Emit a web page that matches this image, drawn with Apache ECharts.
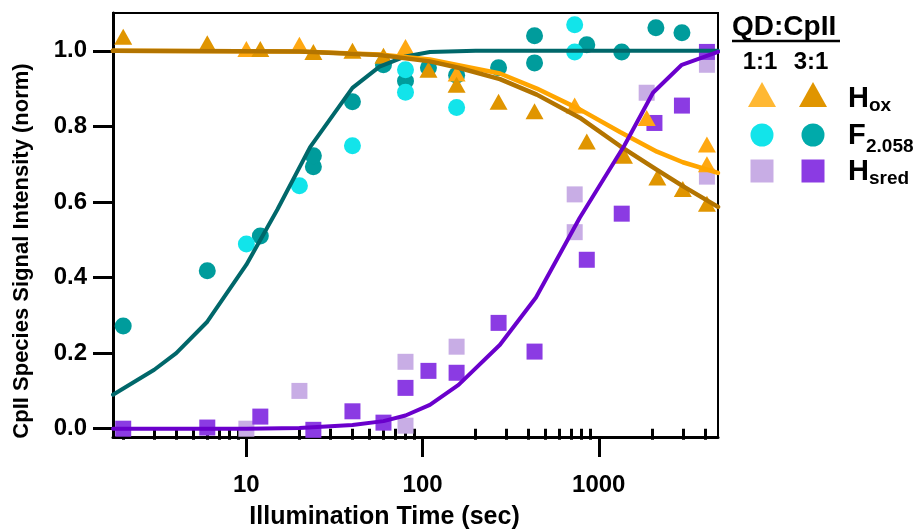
<!DOCTYPE html>
<html><head><meta charset="utf-8">
<script src="https://cdn.jsdelivr.net/npm/echarts@6/dist/echarts.min.js"></script>
<style>html,body{margin:0;padding:0;background:#fff}#c{width:915px;height:529px}</style>
</head><body><div id="c"></div>
<script>
const FONT = '"Liberation Sans", Arial, Helvetica, sans-serif';

// ---- tick values / labels ----
const xMajorTicks = [10, 100, 1000];
const xTickLabels = ['10', '100', '1000'];
const xMinorTicks = [2,3,4,5,6,7,8,9, 20,30,40,50,60,70,80,90, 200,300,400,500,600,700,800,900, 2000,3000,4000];
const yTicks = [0, 0.2, 0.4, 0.6, 0.8, 1.0];

// ---- Hox (triangles) ----
const hox11X = [10, 20, 80, 156, 730, 1870, 4110, 4110];
const hox11Y = [1.005, 1.016, 1.01, 0.94, 0.855, 0.822, 0.752, 0.700];
const hox31X = [2, 6, 12, 24, 40, 60, 108, 156, 270, 432, 855, 1390, 2150, 3000, 4110];
const hox31Y = [1.037, 1.020, 1.005, 0.997, 1.000, 0.987, 0.950, 0.910, 0.865, 0.840, 0.760, 0.722, 0.665, 0.634, 0.595];

// ---- F2.058 (circles) ----
const f11X = [10, 20, 40, 80, 80, 156, 730, 730];
const f11Y = [0.489, 0.643, 0.749, 0.950, 0.890, 0.850, 1.069, 0.997];
const f31X = [2, 6, 12, 24, 24, 40, 60, 80, 108, 156, 270, 432, 432, 855, 1350, 2110, 2965];
const f31Y = [0.272, 0.418, 0.510, 0.693, 0.722, 0.865, 0.963, 0.920, 0.955, 0.935, 0.955, 1.040, 0.968, 1.016, 0.997, 1.061, 1.048];

// ---- Hsred (squares) ----
const hs11X = [10, 20, 80, 80, 156, 730, 730, 1870, 4110, 4110];
const hs11Y = [0.000, 0.100, 0.008, 0.177, 0.217, 0.520, 0.620, 0.889, 0.963, 0.667];
const hs31X = [2, 6, 12, 24, 40, 60, 80, 108, 156, 270, 432, 855, 1350, 2070, 2965, 4110];
const hs31Y = [0.000, 0.003, 0.032, -0.003, 0.046, 0.016, 0.108, 0.153, 0.148, 0.280, 0.204, 0.447, 0.569, 0.809, 0.855, 0.997];

// ---- fitted curves ----
const fFitX = [1.75, 3, 4, 6, 10, 15, 23, 40, 57, 80, 110, 200, 4750];
const fFitY = [0.090, 0.156, 0.200, 0.283, 0.434, 0.580, 0.745, 0.902, 0.958, 0.985, 0.997, 1.000, 1.000];
const hox31FitX = [1.75, 20, 57, 110, 160, 275, 445, 780, 1320, 2140, 3000, 4750];
const hox31FitY = [1.000, 0.998, 0.989, 0.972, 0.955, 0.925, 0.884, 0.823, 0.748, 0.685, 0.642, 0.587];
const hox11FitX = [1.75, 20, 57, 110, 160, 275, 445, 780, 1320, 2140, 3000, 4750];
const hox11FitY = [1.000, 0.998, 0.990, 0.977, 0.962, 0.940, 0.900, 0.845, 0.785, 0.733, 0.705, 0.677];
const hsFitX = [1.75, 10, 20, 40, 60, 80, 110, 160, 275, 440, 780, 1400, 2030, 2960, 4750];
const hsFitY = [0, 0, 0.002, 0.010, 0.020, 0.035, 0.063, 0.116, 0.222, 0.347, 0.558, 0.750, 0.889, 0.963, 0.997];

const pairs = (xs, ys) => xs.map((x, i) => [x, ys[i]]);

const C = {
  hox11: '#FFA812', hox31: '#E09500', hox11Leg: '#FFB833',
  hox11Fit: '#FFA500', hox31Fit: '#B37400',
  f11: '#12E4EA', f31: '#009C9C', f31Leg: '#00AAAA', fFit: '#00676A',
  hs11: '#C8ADE5', hs31: '#8B3BE3', hsFit: '#6A00CC'
};

const X_MIN = 1.75, X_MAX = 4750, Y_MIN = -0.022, Y_MAX = 1.1;
const txt = { color: '#000', fontWeight: 'bold', fontFamily: FONT };

function scatter(name, xs, ys, symbol, size, color) {
  return { name, type: 'scatter', data: pairs(xs, ys), symbol, symbolSize: size,
    itemStyle: { color, opacity: 1 }, z: 2 };
}
function fit(name, xs, ys, color, w) {
  return { name, type: 'line', data: pairs(xs, ys), showSymbol: false, symbol: 'none',
    smooth: false, lineStyle: { color, width: w, cap: 'round', join: 'round' }, z: 3 };
}

const chart = echarts.init(document.getElementById('c'));
chart.setOption({
  animation: false,
  backgroundColor: '#fff',
  grid: { left: 113, right: 197, top: 13, bottom: 92, show: true, borderColor: '#000', borderWidth: 2,
    backgroundColor: 'transparent', containLabel: false, outerBoundsMode: 'none' },
  xAxis: [{
    type: 'log', logBase: 10, min: X_MIN, max: X_MAX, position: 'bottom',
    axisLine: { show: true, onZero: false, lineStyle: { color: '#000', width: 3 } },
    axisTick: { show: true, inside: false, length: 20, lineStyle: { color: '#000', width: 3 }, customValues: xMajorTicks },
    axisLabel: { show: true, customValues: xMajorTicks, margin: 36, fontSize: 24, ...txt,
      formatter: v => { const i = xMajorTicks.findIndex(t => Math.abs(t - v) / t < 1e-6); return i >= 0 ? xTickLabels[i] : ''; } },
    minorTick: { show: false }, splitLine: { show: false },
    name: 'Illumination Time (sec)', nameLocation: 'middle', nameGap: 68,
    nameTextStyle: { fontSize: 25, ...txt, padding: [0, 62, 0, 0] }
  }, {
    type: 'log', logBase: 10, min: X_MIN, max: X_MAX, position: 'bottom',
    axisLine: { show: false },
    axisTick: { show: true, inside: false, length: 11, lineStyle: { color: '#000', width: 3 }, customValues: xMinorTicks },
    axisLabel: { show: false }, splitLine: { show: false }, minorTick: { show: false }
  }],
  yAxis: {
    type: 'value', min: Y_MIN, max: Y_MAX,
    axisLine: { show: true, onZero: false, lineStyle: { color: '#000', width: 3 } },
    axisTick: { show: true, inside: false, length: 20, lineStyle: { color: '#000', width: 3 }, customValues: yTicks },
    axisLabel: { show: true, customValues: yTicks, margin: 26, fontSize: 24, ...txt, formatter: v => v.toFixed(1) },
    splitLine: { show: false },
    name: 'CpII Species Signal Intensity (norm)', nameLocation: 'middle', nameGap: 80, nameRotate: 90,
    nameTextStyle: { fontSize: 22, ...txt, padding: [0, 52, 0, 0] }
  },
  series: [
    scatter('F 3:1', f31X, f31Y, 'circle', 17, C.f31),
    scatter('F 1:1', f11X, f11Y, 'circle', 17, C.f11),
    scatter('Hsred 1:1', hs11X, hs11Y, 'rect', 16, C.hs11),
    scatter('Hsred 3:1', hs31X, hs31Y, 'rect', 16, C.hs31),
    scatter('Hox 1:1', hox11X, hox11Y, 'triangle', [18, 16], C.hox11),
    scatter('Hox 3:1', hox31X, hox31Y, 'triangle', [18, 16], C.hox31),
    fit('F fit', fFitX, fFitY, C.fFit, 4),
    fit('Hox 1:1 fit', hox11FitX, hox11FitY, C.hox11Fit, 4.5),
    fit('Hox 3:1 fit', hox31FitX, hox31FitY, C.hox31Fit, 4.5),
    fit('Hsred fit', hsFitX, hsFitY, C.hsFit, 4)
  ],
  graphic: [
    { type: 'text', left: 732, top: 13, style: { text: 'QD:CpII', font: 'bold 28px ' + FONT, fill: '#000' } },
    { type: 'line', shape: { x1: 732, y1: 41, x2: 840, y2: 41 }, style: { stroke: '#000', lineWidth: 2.5 } },
    { type: 'text', x: 760, y: 62, style: { text: '1:1', font: 'bold 24px ' + FONT, fill: '#000', align: 'center', verticalAlign: 'middle' } },
    { type: 'text', x: 811, y: 62, style: { text: '3:1', font: 'bold 24px ' + FONT, fill: '#000', align: 'center', verticalAlign: 'middle' } },
    { type: 'polygon', shape: { points: [[762, 82], [776, 107], [748, 107]] }, style: { fill: C.hox11Leg } },
    { type: 'polygon', shape: { points: [[813, 82], [827, 107], [799, 107]] }, style: { fill: C.hox31 } },
    { type: 'circle', shape: { cx: 762, cy: 135, r: 11.5 }, style: { fill: C.f11 } },
    { type: 'circle', shape: { cx: 813, cy: 135, r: 11.5 }, style: { fill: C.f31Leg } },
    { type: 'rect', shape: { x: 750.5, y: 159.5, width: 23, height: 23 }, style: { fill: C.hs11 } },
    { type: 'rect', shape: { x: 801.5, y: 159.5, width: 23, height: 23 }, style: { fill: C.hs31 } },
    { type: 'text', x: 848, y: 99, style: { text: 'H', font: 'bold 29px ' + FONT, fill: '#000', verticalAlign: 'middle' } },
    { type: 'text', x: 869, y: 106, style: { text: 'ox', font: 'bold 19px ' + FONT, fill: '#000', verticalAlign: 'middle' } },
    { type: 'text', x: 848, y: 136, style: { text: 'F', font: 'bold 29px ' + FONT, fill: '#000', verticalAlign: 'middle' } },
    { type: 'text', x: 866, y: 147, style: { text: '2.058', font: 'bold 19px ' + FONT, fill: '#000', verticalAlign: 'middle' } },
    { type: 'text', x: 848, y: 172, style: { text: 'H', font: 'bold 29px ' + FONT, fill: '#000', verticalAlign: 'middle' } },
    { type: 'text', x: 869, y: 179, style: { text: 'sred', font: 'bold 19px ' + FONT, fill: '#000', verticalAlign: 'middle' } }
  ]
});
</script></body></html>
